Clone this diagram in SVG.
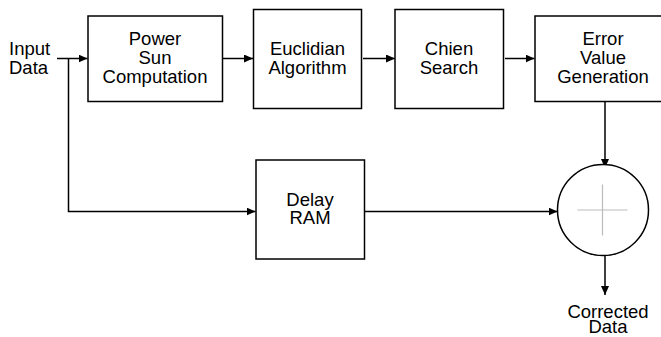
<svg xmlns="http://www.w3.org/2000/svg" width="661" height="337" viewBox="0 0 661 337">
<defs>
<style>
.box{fill:#fff;stroke:#000;stroke-width:1.5}
.t{font-family:"Liberation Sans",Arial,sans-serif;font-size:18.5px;fill:#000;text-anchor:middle}
.ts{text-anchor:start}
.c{fill:none;stroke:#000;stroke-width:1.5}
</style>
<marker id="ah" markerWidth="10" markerHeight="8" refX="9" refY="4" orient="auto" markerUnits="userSpaceOnUse">
<path d="M0,0 L9,4 L0,8 Z" fill="#000"/>
</marker>
</defs>
<rect width="661" height="337" fill="#fff"/>
<g id="connectors">
<path class="c" d="M57,58.5 H87.5" marker-end="url(#ah)"/>
<path class="c" d="M68.5,58.5 V211.5 H255.5" marker-end="url(#ah)"/>
<path class="c" d="M223,58.5 H253" marker-end="url(#ah)"/>
<path class="c" d="M363,58.5 H395" marker-end="url(#ah)"/>
<path class="c" d="M505,58.5 H534.5" marker-end="url(#ah)"/>
<path class="c" d="M605,102 V168" marker-end="url(#ah)"/>
<path class="c" d="M365,211.5 H557.5" marker-end="url(#ah)"/>
<path class="c" d="M605,256 V295" marker-end="url(#ah)"/>
</g>
<g id="input-label">
<text class="t ts" x="9" y="55">Input</text>
<text class="t ts" x="9" y="74">Data</text>
</g>
<g id="power-sun">
<rect class="box" x="88" y="16" width="134.5" height="85.5"/>
<text class="t" x="155" y="45">Power</text>
<text class="t" x="155" y="64">Sun</text>
<text class="t" x="155" y="83">Computation</text>
</g>
<g id="euclidian">
<rect class="box" x="253.5" y="9.5" width="108" height="99"/>
<text class="t" x="307.5" y="55">Euclidian</text>
<text class="t" x="307.5" y="73.5">Algorithm</text>
</g>
<g id="chien">
<rect class="box" x="395" y="9.5" width="108.5" height="99"/>
<text class="t" x="449" y="55">Chien</text>
<text class="t" x="449" y="73.5">Search</text>
</g>
<g id="error-value">
<rect class="box" x="535" y="16" width="140" height="85.5"/>
<text class="t" x="603" y="45">Error</text>
<text class="t" x="603" y="64">Value</text>
<text class="t" x="603" y="83">Generation</text>
</g>
<g id="delay-ram">
<rect class="box" x="256" y="160" width="108.5" height="99"/>
<text class="t" x="310" y="205.5">Delay</text>
<text class="t" x="310" y="224">RAM</text>
</g>
<g id="adder">
<circle cx="603" cy="210" r="45.5" fill="#fff" stroke="#000" stroke-width="1.5"/>
<path d="M577.5,210 H627.5 M602.5,184.5 V235.5" stroke="#bbb" stroke-width="1.2" fill="none"/>
</g>
<g id="output-label">
<text class="t" x="608" y="318">Corrected</text>
<text class="t" x="608" y="333">Data</text>
</g>
</svg>
